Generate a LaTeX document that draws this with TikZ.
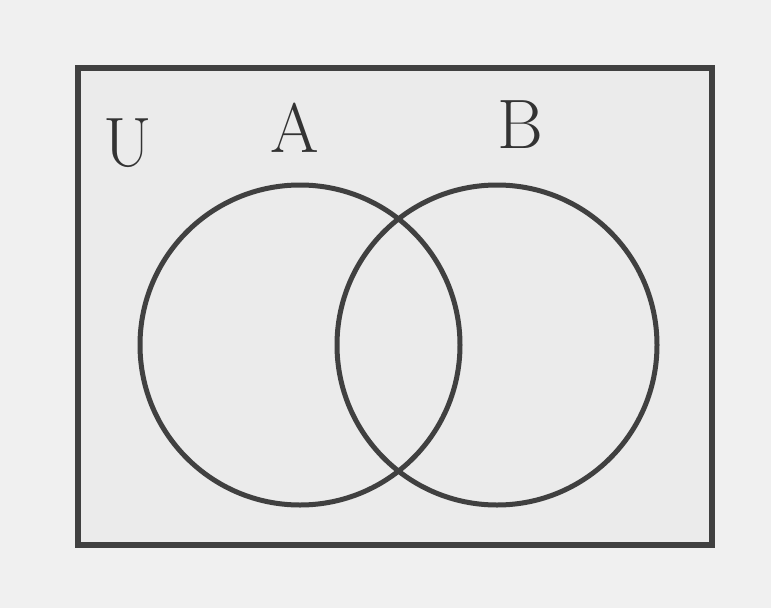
\documentclass[tikz,border=0pt]{standalone}
\begin{document}
\begin{tikzpicture}[x=1pt,y=-1pt,
  frame/.style={draw=black!75,line width=6pt},
  setcircle/.style={draw=black!75,line width=5pt},
  lbl/.style={font=\fontsize{70}{70}\selectfont,text=black!80,inner sep=0pt}]
\useasboundingbox[fill=black!6] (0,0) rectangle (771,608);
\node[frame,minimum width=634pt,minimum height=477pt,inner sep=0pt,fill=black!8] (U) at (395,306.5) {};
\node[setcircle,circle,minimum size=320pt,inner sep=0pt] (A) at (300,345) {};
\node[setcircle,circle,minimum size=320pt,inner sep=0pt] (B) at (497,345) {};
\node[lbl] (u) at (128,143) {U};
\node[lbl] (a) at (295,128) {A};
\node[lbl] (b) at (520,125) {B};
\end{tikzpicture}
\end{document}
